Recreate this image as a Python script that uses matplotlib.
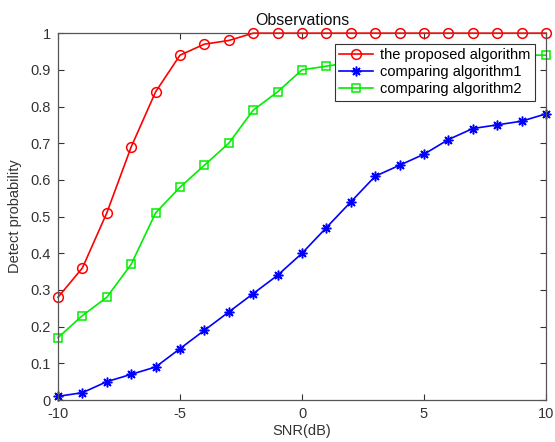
import numpy as np
import matplotlib
matplotlib.use('Agg')
import matplotlib.pyplot as plt

plt.rcParams['font.family'] = ['Liberation Sans', 'DejaVu Sans']
plt.rcParams['axes.unicode_minus'] = False

# SNR values (dB)
snr = list(range(-10, 11))

# detection probability
proposed = [0.28, 0.36, 0.51, 0.69, 0.84, 0.94, 0.97, 0.98, 1.0, 1.0, 1.0,
            1.0, 1.0, 1.0, 1.0, 1.0, 1.0, 1.0, 1.0, 1.0, 1.0]
algo1 = [0.01, 0.02, 0.05, 0.07, 0.09, 0.14, 0.19, 0.24, 0.29, 0.34, 0.40,
         0.47, 0.54, 0.61, 0.64, 0.67, 0.71, 0.74, 0.75, 0.76, 0.78]
algo2 = [0.17, 0.23, 0.28, 0.37, 0.51, 0.58, 0.64, 0.70, 0.79, 0.84, 0.90,
         0.91, 0.92, 0.92, 0.93, 0.93, 0.93, 0.94, 0.94, 0.94, 0.94]

labels = ['the proposed algorithm', 'comparing algorithm1', 'comparing algorithm2']
x_ticks = [-10, -5, 0, 5, 10]
y_ticks = [0, 0.1, 0.2, 0.3, 0.4, 0.5, 0.6, 0.7, 0.8, 0.9, 1]

fig = plt.figure(figsize=(5.55, 4.42), dpi=100)
ax = fig.add_axes([0.1045, 0.095, 0.8793, 0.830])

ax.plot(snr, proposed, color='red', marker='o', markersize=7, markerfacecolor='none',
        markeredgewidth=1.1, linewidth=1.2, label=labels[0], clip_on=False)
ax.plot(snr, algo1, color='blue', marker=(8, 2, 0), markersize=7, markeredgewidth=1.1,
        linewidth=1.2, label=labels[1], clip_on=False)
ax.plot(snr, algo2, color='#00ee00', marker='s', markersize=5.5, markerfacecolor='none',
        markeredgewidth=1.1, linewidth=1.2, label=labels[2], clip_on=False)

ax.set_xlim(-10, 10)
ax.set_ylim(0, 1)
ax.set_xticks(x_ticks)
ax.set_yticks(y_ticks)
ax.set_yticklabels(['0', '0.1', '0.2', '0.3', '0.4', '0.5', '0.6', '0.7', '0.8', '0.9', '1'])
ax.tick_params(direction='in', top=True, right=True, labelsize=10.5, colors='#333333',
               length=4, pad=5)
for s in ax.spines.values():
    s.set_color('#555555')
    s.set_linewidth(0.9)

ax.set_xlabel('SNR(dB)', fontsize=10.5, color='#333333', labelpad=2)
ax.set_ylabel('Detect probability', fontsize=10.5, color='#333333', labelpad=6)
ax.set_title('Observations', fontsize=11.5, color='#111111', pad=6)

leg = ax.legend(loc='upper right', bbox_to_anchor=(535 / 555, 1 - 44 / 442),
                bbox_transform=fig.transFigure, fontsize=10.5, fancybox=False,
                framealpha=1, edgecolor='#333333', borderpad=0.3, labelspacing=0.2,
                handlelength=2.3, handletextpad=0.5, borderaxespad=0)
leg.get_frame().set_linewidth(0.8)
leg.set_zorder(5)

fig.savefig('out.png', dpi=100)
